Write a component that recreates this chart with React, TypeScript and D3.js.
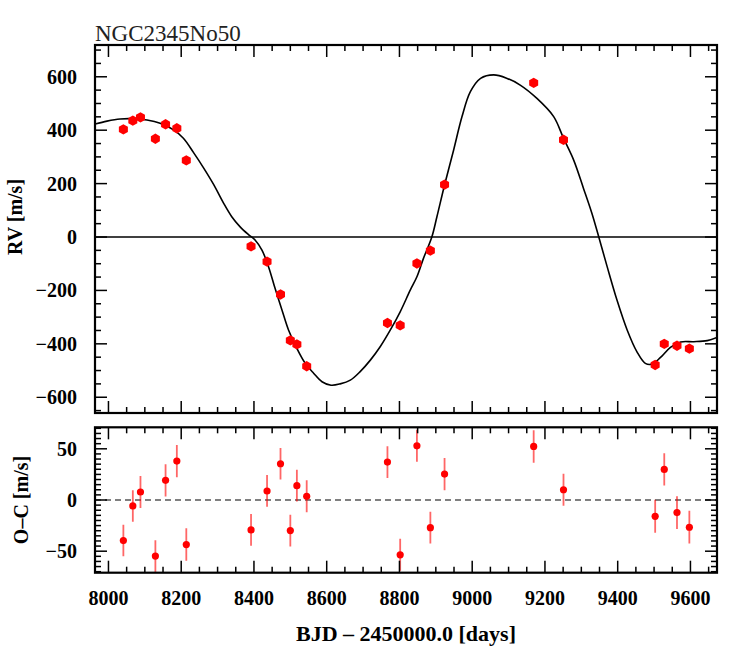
import React from "react";
import * as d3 from "d3";

// Observed epochs (BJD - 2450000)
const obsTime = [8041, 8067, 8088, 8129, 8157, 8188, 8214, 8392, 8436, 8473, 8500, 8518, 8545, 8767, 8802, 8848, 8885, 8924, 9169, 9251, 9503, 9528, 9563, 9597];
// Radial velocities [m/s]
const obsRV = [403, 436, 448, 368, 422, 407, 287, -35, -92, -215, -387, -402, -484, -322, -331, -99, -51, 196, 577, 364, -479, -400, -407, -418];
// Residuals O-C [m/s]
const obsOC = [-39.6, -5.8, 7.8, -54.8, 19.2, 38, -43.5, -29.2, 8.8, 35.4, -29.9, 14, 3.6, 37, -53.5, 52.9, -27, 25.3, 52.3, 10, -15.9, 29.9, -12.3, -26.6];
// Uncertainties [m/s]
const obsErr = [15.4, 15.4, 15.7, 15.5, 15.7, 15.7, 15.9, 15.6, 15.5, 15.5, 15.6, 15.5, 15.6, 15.5, 15.6, 15.6, 15.6, 15.7, 15.9, 15.7, 16.2, 15.7, 15.9, 16.0];

// Model curve
const modelTime = [7963, 7996, 8032, 8069, 8106, 8142, 8179, 8206, 8234, 8261, 8289, 8316, 8339, 8362, 8385, 8403, 8422, 8440, 8458, 8477, 8495, 8518, 8541, 8564, 8587, 8612, 8637, 8665, 8692, 8720, 8747, 8775, 8802, 8830, 8848, 8866, 8889, 8903, 8924, 8949, 8972, 8995, 9023, 9059, 9096, 9132, 9178, 9224, 9251, 9279, 9306, 9329, 9348, 9371, 9398, 9426, 9453, 9476, 9494, 9517, 9545, 9573, 9609, 9646, 9673];
const modelRV = [423, 434, 442, 443, 438, 426, 401, 370, 316, 260, 197, 128, 76, 38, 9, -11, -49, -111, -192, -273, -348, -417, -473, -510, -542, -555, -550, -536, -504, -461, -411, -348, -280, -198, -149, -80, 0, 76, 195, 326, 451, 544, 594, 607, 594, 569, 519, 451, 370, 288, 182, 89, 0, -111, -236, -348, -430, -473, -476, -452, -413, -393, -392, -388, -376];

const xMajor = [8000, 8200, 8400, 8600, 8800, 9000, 9200, 9400, 9600];
const rvMajor = [-600, -400, -200, 0, 200, 400, 600];
const ocMajor = [-50, 0, 50];

const title = "NGC2345No50";
const xLabel = "BJD \u2013 2450000.0 [days]";
const rvLabel = "RV [m/s]";
const ocLabel = "O\u2013C [m/s]";

const L = 95, R = 717;
const T1 = 45, B1 = 413;
const T2 = 427.3, B2 = 572.7;

const FONT = "'Liberation Serif', 'Times New Roman', serif";

function fmt(v: number) {
  return v < 0 ? "\u2212" + Math.abs(v) : String(v);
}

function hexPath(cx: number, cy: number, r: number) {
  const pts = d3.range(6).map((k) => {
    const a = Math.PI / 2 + (k * Math.PI) / 3;
    return [cx + r * Math.cos(a), cy - r * Math.sin(a)];
  });
  return "M" + pts.map((p) => p[0].toFixed(2) + "," + p[1].toFixed(2)).join("L") + "Z";
}

export default function App() {
  const x = d3.scaleLinear().domain([7963, 9673]).range([L, R]);
  const yRV = d3.scaleLinear().domain([-659, 719]).range([B1, T1]);
  const yOC = d3.scaleLinear().domain([-71, 71]).range([B2, T2]);

  const xMinor = d3.range(7950, 9700, 50).filter((v) => v >= 7963 && v <= 9673 && v % 200 !== 0);
  const rvMinor = d3.range(-650, 750, 50).filter((v) => v >= -659 && v <= 719 && v % 200 !== 0);
  const ocMinor = d3.range(-70, 75, 5).filter((v) => v % 50 !== 0);

  const line = d3
    .line<number>()
    .x((_, i) => x(modelTime[i]))
    .y((_, i) => yRV(modelRV[i]))
    .curve(d3.curveCatmullRom.alpha(0.5));

  const maj = 12, mnr = 6;

  const xTicks = (top: number, bottom: number, key: string) => (
    <g key={key} stroke="#000" strokeWidth={1.5}>
      {xMajor.map((v) => (
        <g key={"M" + v}>
          <line x1={x(v)} x2={x(v)} y1={top} y2={top + maj} />
          <line x1={x(v)} x2={x(v)} y1={bottom} y2={bottom - maj} />
        </g>
      ))}
      {xMinor.map((v) => (
        <g key={"m" + v}>
          <line x1={x(v)} x2={x(v)} y1={top} y2={top + mnr} />
          <line x1={x(v)} x2={x(v)} y1={bottom} y2={bottom - mnr} />
        </g>
      ))}
    </g>
  );

  const yTicks = (scale: d3.ScaleLinear<number, number>, major: number[], minor: number[], key: string) => (
    <g key={key} stroke="#000" strokeWidth={1.5}>
      {major.map((v) => (
        <g key={"M" + v}>
          <line x1={L} x2={L + maj} y1={scale(v)} y2={scale(v)} />
          <line x1={R} x2={R - maj} y1={scale(v)} y2={scale(v)} />
        </g>
      ))}
      {minor.map((v) => (
        <g key={"m" + v}>
          <line x1={L} x2={L + mnr} y1={scale(v)} y2={scale(v)} />
          <line x1={R} x2={R - mnr} y1={scale(v)} y2={scale(v)} />
        </g>
      ))}
    </g>
  );

  return (
    <svg
      width={748}
      height={654}
      style={{ position: "absolute", left: 0, top: 0, background: "#fff" }}
      fontFamily={FONT}
    >
      <defs>
        <clipPath id="clipTop">
          <rect x={L} y={T1} width={R - L} height={B1 - T1} />
        </clipPath>
        <clipPath id="clipBot">
          <rect x={L} y={T2} width={R - L} height={B2 - T2} />
        </clipPath>
      </defs>
      <rect x={0} y={0} width={748} height={654} fill="#fff" />

      {/* Title */}
      <text x={L} y={40.5} fontSize={23} fill="#222">
        {title}
      </text>

      {/* Top panel */}
      <g clipPath="url(#clipTop)">
        <line x1={L} x2={R} y1={yRV(0)} y2={yRV(0)} stroke="#000" strokeWidth={1.3} />
        <path d={line(modelTime) || ""} fill="none" stroke="#000" strokeWidth={1.6} />
        {obsTime.map((t, i) => (
          <path key={i} d={hexPath(x(t), yRV(obsRV[i]), 5.2)} fill="#ff0000" />
        ))}
      </g>
      {xTicks(T1, B1, "xt1")}
      {yTicks(yRV, rvMajor, rvMinor, "yt1")}
      <rect x={L} y={T1} width={R - L} height={B1 - T1} fill="none" stroke="#000" strokeWidth={2.2} />
      {rvMajor.map((v) => (
        <text key={v} x={77} y={yRV(v)} dy="0.35em" textAnchor="end" fontSize={20} fontWeight="bold">
          {fmt(v)}
        </text>
      ))}
      <text
        transform={`translate(22,${(T1 + B1) / 2 - 12}) rotate(-90)`}
        textAnchor="middle"
        fontSize={20}
        fontWeight="bold"
      >
        {rvLabel}
      </text>

      {/* Bottom panel */}
      <g clipPath="url(#clipBot)">
        <line
          x1={L}
          x2={R}
          y1={yOC(0)}
          y2={yOC(0)}
          stroke="#000"
          strokeWidth={1.2}
          strokeDasharray="6,4"
        />
        {obsTime.map((t, i) => (
          <line
            key={"e" + i}
            x1={x(t)}
            x2={x(t)}
            y1={yOC(obsOC[i] - obsErr[i])}
            y2={yOC(obsOC[i] + obsErr[i])}
            stroke="rgba(255,0,0,0.6)"
            strokeWidth={1.8}
          />
        ))}
        {obsTime.map((t, i) => (
          <circle key={"c" + i} cx={x(t)} cy={yOC(obsOC[i])} r={3.6} fill="#ff0000" />
        ))}
      </g>
      {xTicks(T2, B2, "xt2")}
      {yTicks(yOC, ocMajor, ocMinor, "yt2")}
      <rect x={L} y={T2} width={R - L} height={B2 - T2} fill="none" stroke="#000" strokeWidth={2.2} />
      {ocMajor.map((v) => (
        <text key={v} x={77} y={yOC(v)} dy="0.35em" textAnchor="end" fontSize={20} fontWeight="bold">
          {fmt(v)}
        </text>
      ))}
      <text
        transform={`translate(28,${(T2 + B2) / 2}) rotate(-90)`}
        textAnchor="middle"
        fontSize={20}
        fontWeight="bold"
      >
        {ocLabel}
      </text>

      {/* X axis labels */}
      {xMajor.map((v) => (
        <text key={v} x={x(v)} y={605} textAnchor="middle" fontSize={20} fontWeight="bold">
          {v}
        </text>
      ))}
      <text x={(L + R) / 2} y={641} textAnchor="middle" fontSize={22} fontWeight="bold">
        {xLabel}
      </text>
    </svg>
  );
}
